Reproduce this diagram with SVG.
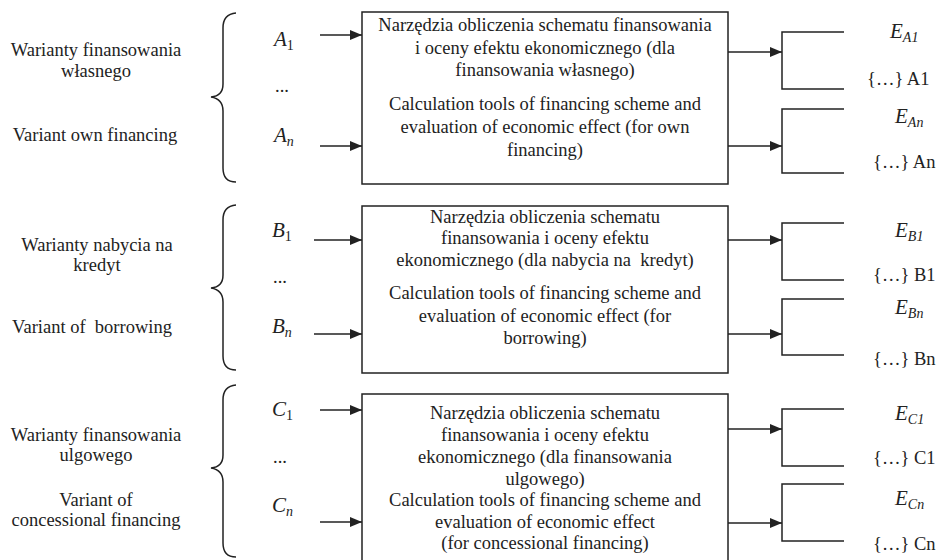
<svg xmlns="http://www.w3.org/2000/svg" width="944" height="560" viewBox="0 0 944 560" font-family="'Liberation Serif', 'Times New Roman', serif">
<defs>
<marker id="ah" viewBox="0 0 12 10" refX="12" refY="5" markerWidth="12" markerHeight="10" markerUnits="userSpaceOnUse" orient="auto">
<path d="M0,0 L12,5 L0,10 Z" fill="#222"/>
</marker>
<style>
text{font-family:'Liberation Serif','Times New Roman',serif;font-size:18.5px;fill:#222}
.c{text-anchor:middle}
.m{font-style:italic;font-size:21px}
.s{font-size:14px}
.u{font-style:normal}
.ln{fill:none;stroke:#222;stroke-width:1.5}
.box{fill:#fff;stroke:#222;stroke-width:1.5}
.arr{fill:none;stroke:#222;stroke-width:1.5;marker-end:url(#ah)}
</style>
</defs>
<rect width="944" height="560" fill="#fff"/>

<!-- Section A -->
<g id="labelA">
<text class="c" x="96" y="56">Warianty finansowania</text>
<text class="c" x="96" y="77">własnego</text>
<text class="c" x="95" y="141">Variant own financing</text>
</g>
<g id="braceA"><path class="ln" d="M236,13 Q223,14 223,28 L223,84 Q223,96 211,97 Q223,99 223,111 L223,168 Q223,182 236,182"/></g>
<g id="inputsA">
<text class="m" x="274" y="46">A<tspan class="s u" dy="4">1</tspan></text>
<text x="275" y="92">...</text>
<text class="m" x="274" y="142">A<tspan class="s" dy="4">n</tspan></text>
</g>
<g id="boxA">
<rect class="box" x="362" y="12" width="366" height="172"/>
<text class="c" x="545" y="31">Narzędzia obliczenia schematu finansowania</text>
<text class="c" x="545" y="54">i oceny efektu ekonomicznego (dla</text>
<text class="c" x="545" y="76">finansowania własnego)</text>
<text class="c" x="545" y="110">Calculation tools of financing scheme and</text>
<text class="c" x="545" y="133">evaluation of economic effect (for own</text>
<text class="c" x="545" y="156">financing)</text>
</g>
<g id="outputsA">
<text class="m" x="890" y="38">E<tspan class="s" dy="4">A1</tspan></text>
<text x="867" y="85">{…} A1</text>
<text class="m" x="895" y="123">E<tspan class="s" dy="4">An</tspan></text>
<text x="873" y="168">{…} An</text>
</g>

<!-- Section B -->
<g id="labelB">
<text class="c" x="97" y="251">Warianty nabycia na</text>
<text class="c" x="97" y="271">kredyt</text>
<text class="c" x="92" y="333" xml:space="preserve">Variant of  borrowing</text>
</g>
<g id="braceB"><path class="ln" d="M236,205 Q223,206 223,220 L223,275 Q223,287 211,288 Q223,290 223,302 L223,356 Q223,370 236,370"/></g>
<g id="inputsB">
<text class="m" x="272" y="237">B<tspan class="s u" dy="4">1</tspan></text>
<text x="273" y="283">...</text>
<text class="m" x="272" y="333">B<tspan class="s" dy="4">n</tspan></text>
</g>
<g id="boxB">
<rect class="box" x="362" y="206" width="366" height="167"/>
<text class="c" x="545" y="223">Narzędzia obliczenia schematu</text>
<text class="c" x="545" y="244">finansowania i oceny efektu</text>
<text class="c" x="545" y="266" xml:space="preserve">ekonomicznego (dla nabycia na  kredyt)</text>
<text class="c" x="545" y="299">Calculation tools of financing scheme and</text>
<text class="c" x="545" y="322">evaluation of economic effect (for</text>
<text class="c" x="545" y="344">borrowing)</text>
</g>
<g id="outputsB">
<text class="m" x="895" y="237">E<tspan class="s" dy="4">B1</tspan></text>
<text x="873" y="281">{…} B1</text>
<text class="m" x="895" y="314">E<tspan class="s" dy="4">Bn</tspan></text>
<text x="873" y="365">{…} Bn</text>
</g>

<!-- Section C -->
<g id="labelC">
<text class="c" x="96" y="441">Warianty finansowania</text>
<text class="c" x="96" y="461">ulgowego</text>
<text class="c" x="96" y="506">Variant of</text>
<text class="c" x="96" y="526">concessional financing</text>
</g>
<g id="braceC"><path class="ln" d="M236,385 Q223,386 223,400 L223,455 Q223,467 211,468 Q223,470 223,482 L223,543 Q223,557 236,557"/></g>
<g id="inputsC">
<text class="m" x="272" y="416">C<tspan class="s u" dy="4">1</tspan></text>
<text x="273" y="463">...</text>
<text class="m" x="272" y="512">C<tspan class="s" dy="4">n</tspan></text>
</g>
<g id="boxC">
<rect class="box" x="362" y="394" width="366" height="172"/>
<text class="c" x="545" y="419">Narzędzia obliczenia schematu</text>
<text class="c" x="545" y="441">finansowania i oceny efektu</text>
<text class="c" x="545" y="463">ekonomicznego (dla finansowania</text>
<text class="c" x="545" y="485">ulgowego)</text>
<text class="c" x="545" y="506">Calculation tools of financing scheme and</text>
<text class="c" x="545" y="528">evaluation of economic effect</text>
<text class="c" x="545" y="549">(for concessional financing)</text>
</g>
<g id="outputsC">
<text class="m" x="895" y="420">E<tspan class="s" dy="4">C1</tspan></text>
<text x="873" y="464">{…} C1</text>
<text class="m" x="895" y="505">E<tspan class="s" dy="4">Cn</tspan></text>
<text x="873" y="550">{…} Cn</text>
</g>

<g id="connectors">
<line class="arr" x1="320" y1="35" x2="362" y2="35"/>
<line class="arr" x1="320" y1="146" x2="362" y2="146"/>
<line class="arr" x1="314" y1="240" x2="362" y2="240"/>
<line class="arr" x1="314" y1="334" x2="362" y2="334"/>
<line class="arr" x1="320" y1="410" x2="362" y2="410"/>
<line class="arr" x1="320" y1="522" x2="362" y2="522"/>
<line class="arr" x1="728" y1="52" x2="782" y2="52"/>
<line class="arr" x1="728" y1="146" x2="782" y2="146"/>
<line class="arr" x1="728" y1="240" x2="782" y2="240"/>
<line class="arr" x1="728" y1="334" x2="782" y2="334"/>
<line class="arr" x1="728" y1="429" x2="782" y2="429"/>
<line class="arr" x1="728" y1="523" x2="782" y2="523"/>
<path class="ln" d="M844,32 H782 V89 H844"/>
<path class="ln" d="M844,109 H782 V173 H844"/>
<path class="ln" d="M844,223 H782 V280 H844"/>
<path class="ln" d="M844,299 H782 V355 H844"/>
<path class="ln" d="M844,409 H782 V466 H844"/>
<path class="ln" d="M844,484 H782 V541 H844"/>
</g>
</svg>
